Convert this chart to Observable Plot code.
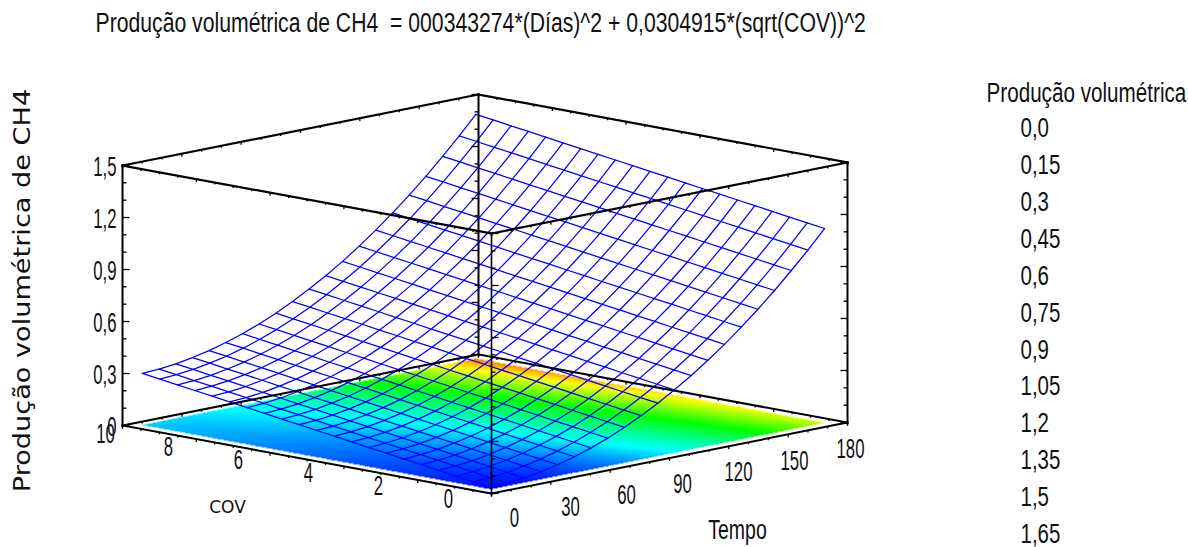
<!DOCTYPE html>
<html><head><meta charset="utf-8">
<style>html,body{margin:0;padding:0;background:#fff;overflow:hidden}svg{display:block}</style>
<script src="https://cdn.jsdelivr.net/npm/d3@7"></script>
<script src="https://cdn.jsdelivr.net/npm/@observablehq/plot@0.6"></script>
</head><body><div id="chart"></div>
<script>
// Values
const titleText = "Produção volumétrica de CH4  = 000343274*(Días)^2 + 0,0304915*(sqrt(COV))^2";
const zLabel = "Produção volumétrica de CH4";
const legendTitle = "Produção volumétrica";
const legendLabels = ["0,0","0,15","0,3","0,45","0,6","0,75","0,9","1,05","1,2","1,35","1,5","1,65"];
const zTicks = [0,0.3,0.6,0.9,1.2,1.5];
const zTickLabels = ["0","0,3","0,6","0,9","1,2","1,5"];
const covTicks = [10,8,6,4,2,0];
const tempoTicks = [0,30,60,90,120,150,180];
// Mesh positions along each axis
const tempoGrid = [5.4,13.8,22.3,30.7,39.1,47.6,56,64.4,72.9,81.3,89.7,98.1,106.6,115,123.4,131.9,140.3,148.7,157.2,165.6,174];
const covGrid = [0.3,0.77,1.25,1.72,2.19,2.66,3.14,3.61,4.08,4.55,5.03,5.5,5.97,6.44,6.91,7.39,7.86,8.33,8.8,9.28,9.75];
// Height profiles read along the two surface edges; the equation in the title is additive
const riseAlongTempo = [0.001,0.007,0.018,0.035,0.056,0.083,0.115,0.152,0.195,0.243,0.296,0.354,0.417,0.486,0.559,0.639,0.723,0.812,0.908,1.007,1.112];
const riseAlongCov = [0.009,0.023,0.038,0.052,0.067,0.081,0.096,0.11,0.124,0.139,0.153,0.168,0.182,0.196,0.211,0.225,0.24,0.254,0.268,0.283,0.297];
const colorStops = [0,0.375,0.8,1.2,1.6];
const colorRamp = ["#0000ff","#00ffff","#00ff00","#ffff00","#ff0000"];

// Fixed oblique view of the box
const TMAX=180, CMAX=10, ZMAX=1.5;
const px=(t,c)=>491+356*t/TMAX-369*c/CMAX;
const py=(t,c,z=0)=>493-71*t/TMAX-68*c/CMAX-260*z/ZMAX;

const heights = covGrid.map((_,j)=>tempoGrid.map((_,i)=>riseAlongTempo[i]+riseAlongCov[j]));
const pts=[];
covGrid.forEach((c,j)=>tempoGrid.forEach((t,i)=>{
  const z=heights[j][i];
  pts.push({x:px(t,c),y:py(t,c,z),id:"c"+j,o:i});
  pts.push({x:px(t,c),y:py(t,c,z),id:"t"+i,o:j});
}));
pts.sort((a,b)=>d3.ascending(a.id,b.id)||a.o-b.o);

function locate(arr,v){
  if(v<arr[0]||v>arr[arr.length-1]) return null;
  let k=Math.min(d3.bisectRight(arr,v)-1,arr.length-2);
  return [k,(v-arr[k])/(arr[k+1]-arr[k])];
}
function floorValue(x,y){
  const a=356/TMAX,b=-369/CMAX,c=-71/TMAX,d=-68/CMAX,X=x-491,Y=y-493,D=a*d-b*c;
  const t=(X*d-b*Y)/D, cv=(a*Y-c*X)/D;
  const li=locate(tempoGrid,t), lj=locate(covGrid,cv);
  if(!li||!lj) return NaN;
  const [i,u]=li,[j,v]=lj;
  return (heights[j][i]*(1-u)+heights[j][i+1]*u)*(1-v)+(heights[j+1][i]*(1-u)+heights[j+1][i+1]*u)*v;
}

// Box
const corners={L:[0,CMAX],F:[0,0],R:[TMAX,0],B:[TMAX,CMAX]};
const edges=[];
const addEdge=(p,q,zp,zq,w)=>edges.push({x1:px(...corners[p]),y1:py(...corners[p],zp),x2:px(...corners[q]),y2:py(...corners[q],zq),w});
["L","F","R","B"].forEach(k=>addEdge(k,k,0,ZMAX,k==="F"?1.6:2));
[["L","F"],["F","R"],["R","B"],["B","L"]].forEach(([p,q])=>{addEdge(p,q,0,0,2);addEdge(p,q,ZMAX,ZMAX,2.2);});
// Ticks
const ticks=[];
const vert=(k,dir)=>{for(let n=0;n<=15;n++){const z=n/10,maj=n%3===0,[t,c]=corners[k];
  const x=px(t,c),y=py(t,c,z);ticks.push({x1:x,y1:y,x2:x+dir*(maj?7:4),y2:y});}};
vert("L",1);vert("R",-1);vert("F",1);vert("B",-1);
[0,ZMAX].forEach(z=>{
  for(let t=0;t<=TMAX;t+=10){const maj=t%30===0,l=maj?3:2;
    [0,CMAX].forEach(c=>{const x=px(t,c),y=py(t,c,z);ticks.push({x1:x,y1:y,x2:x,y2:y+l});});}
  for(let c=0;c<=CMAX;c+=0.5){const maj=c%2===0,l=maj?3:2;
    [0,TMAX].forEach(t=>{const x=px(t,c),y=py(t,c,z);ticks.push({x1:x,y1:y,x2:x,y2:y+l});});}
});

const sans='"Liberation Sans",Arial,sans-serif';
const wide='"DejaVu Sans",sans-serif';
const label={fontFamily:sans,fontSize:27,fill:"#111"};
const chart=Plot.plot({
  width:1188,height:547,margin:0,
  x:{domain:[0,1188],range:[0,1188],axis:null},
  y:{domain:[0,547],range:[0,547],axis:null},
  color:{type:"linear",domain:colorStops,range:colorRamp,clamp:true,interpolate:"rgb"},
  style:{background:"#fff"},
  marks:[
    Plot.raster({fill:floorValue,x1:120,x2:850,y1:350,y2:495,pixelSize:1,imageRendering:"auto"}),
    Plot.line(pts,{x:"x",y:"y",z:"id",stroke:"#0000ff",strokeWidth:1.25,curve:"linear"}),
    Plot.link(edges,{x1:"x1",y1:"y1",x2:"x2",y2:"y2",stroke:"#000",strokeWidth:"w",strokeLinecap:"square"}),
    Plot.link(ticks,{x1:"x1",y1:"y1",x2:"x2",y2:"y2",stroke:"#000",strokeWidth:1.3}),
    Plot.text([titleText],{x:()=>95,y:()=>23,text:d=>d,textAnchor:"start",className:"k785",...label}),
    Plot.text(zTicks,{x:()=>116,y:z=>py(0,CMAX,z)+2,text:(d,i)=>zTickLabels[i],textAnchor:"end",className:"k62",...label}),
    Plot.text([zLabel],{x:()=>22,y:()=>290,rotate:-90,text:d=>d,className:"k118",fontFamily:wide,fontSize:23,fill:"#111"}),
    Plot.text(covTicks,{x:c=>px(0,c)-43+1.9*c+(c===10?7:0),y:c=>py(0,c)+6+0.3*c,text:d=>String(d),className:"k62",...label}),
    Plot.text(["COV"],{x:()=>227,y:()=>507,text:d=>d,fontFamily:wide,fontSize:17,fill:"#111"}),
    Plot.text(tempoTicks,{x:t=>px(t,0)+23-20*t/TMAX,y:t=>py(t,0)+25+2*t/TMAX,text:d=>String(d),className:"k62",...label}),
    Plot.text(["Tempo"],{x:()=>737,y:()=>530,text:d=>d,className:"k72",...label}),
    Plot.text([legendTitle],{x:()=>986,y:()=>93,text:d=>d,textAnchor:"start",className:"k765",...label}),
    Plot.text(legendLabels,{x:()=>1020,y:(d,i)=>128+36.9*i,text:d=>d,textAnchor:"start",className:"k76",...label})
  ]
});
document.getElementById("chart").append(chart);
// The reference type is condensed: squeeze the real text horizontally
for (const [cls,k] of [["k785",0.785],["k62",0.62],["k72",0.72],["k765",0.765],["k76",0.76],["k118",1.18]]) {
  chart.querySelectorAll("."+cls+" text").forEach(t=>{
    t.setAttribute("textLength",(t.getComputedTextLength()*k).toFixed(1));
    t.setAttribute("lengthAdjust","spacingAndGlyphs");
  });
}
</script></body></html>
